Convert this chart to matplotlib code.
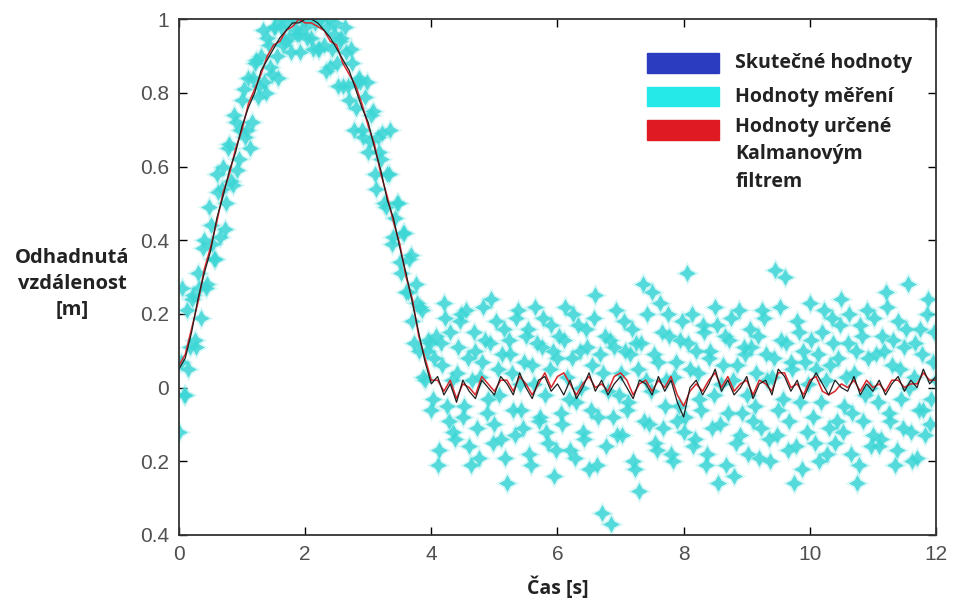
import numpy as np
import matplotlib
matplotlib.use("Agg")
import matplotlib.pyplot as plt
from matplotlib.patches import Rectangle

# skutecne hodnoty (krok 0.1 s)
skutecne = [0.05, 0.08, 0.15, 0.24, 0.31, 0.37, 0.46, 0.52, 0.59, 0.64, 0.71,
            0.76, 0.80, 0.86, 0.89, 0.92, 0.95, 0.97, 0.99, 0.99, 1.00,
            1.00, 0.99, 0.97, 0.95, 0.92, 0.89, 0.86, 0.81, 0.76, 0.72,
            0.65, 0.59, 0.51, 0.46, 0.38, 0.31, 0.23, 0.15, 0.07, 0.01,
            0.03, -0.02, 0.01, -0.04, 0.02, -0.01, -0.03, 0.02, 0.00, -0.02,
            0.03, 0.01, -0.02, 0.04, 0.00, -0.03, 0.02, 0.03, -0.01, 0.01,
            -0.02, 0.02, -0.03, 0.00, 0.04, -0.01, 0.02, -0.02, 0.01, 0.03,
            0.00, -0.03, 0.02, 0.01, -0.02, 0.03, -0.01, 0.02, -0.04, -0.08,
            0.00, 0.02, -0.02, 0.01, 0.05, -0.01, 0.02, -0.02, 0.00, 0.03,
            -0.03, 0.01, 0.02, -0.02, 0.05, 0.03, -0.01, 0.02, -0.03, 0.01,
            0.04, 0.01, -0.02, 0.02, 0.00, -0.01, 0.03, -0.02, 0.01, -0.01,
            0.02, -0.02, 0.01, 0.03, -0.01, 0.02, 0.00, 0.05, 0.01, 0.03]

# odhad Kalmanova filtru (krok 0.1 s)
kalman = [0.06, 0.09, 0.16, 0.23, 0.32, 0.38, 0.45, 0.53, 0.58, 0.65, 0.70,
          0.77, 0.81, 0.85, 0.90, 0.93, 0.94, 0.97, 0.98, 1.00, 0.99,
          0.99, 0.98, 0.97, 0.94, 0.93, 0.88, 0.85, 0.82, 0.77, 0.71,
          0.66, 0.58, 0.52, 0.45, 0.39, 0.30, 0.24, 0.14, 0.08, 0.02,
          0.02, -0.01, 0.02, -0.03, 0.01, 0.00, -0.02, 0.03, 0.01, -0.01,
          0.02, 0.02, -0.01, 0.03, 0.01, -0.02, 0.01, 0.04, 0.00, 0.03,
          0.04, 0.01, -0.02, 0.01, 0.03, 0.00, 0.01, -0.01, 0.03, 0.04,
          0.02, -0.02, 0.01, 0.02, -0.01, 0.02, 0.00, 0.03, -0.02, -0.05,
          -0.01, 0.01, -0.01, 0.02, 0.04, 0.00, 0.03, -0.01, 0.01, 0.02,
          -0.02, 0.02, 0.01, -0.01, 0.04, 0.04, 0.00, 0.01, -0.02, 0.02,
          0.03, -0.01, -0.02, -0.01, 0.01, 0.00, 0.02, -0.01, 0.02, 0.00,
          0.01, -0.01, 0.02, 0.02, 0.00, 0.01, 0.01, 0.04, 0.02, 0.02]

# hodnoty mereni v case 0, 0.05, 0.10, ... 12 s
mereni = [-0.12, 0.27, -0.02, 0.05, 0.24, 0.13, 0.31, 0.19, 0.40, 0.28,
          0.44, 0.35, 0.58, 0.41, 0.60, 0.50, 0.66, 0.55, 0.72, 0.62,
          0.78, 0.68, 0.84, 0.72, 0.88, 0.79, 0.90, 0.83, 0.95, 0.87,
          0.98, 0.90, 1.00, 0.93, 0.99, 0.95, 1.01, 0.97, 0.96, 1.00,
          0.98, 1.01, 0.95, 0.99, 0.92, 1.00, 0.93, 0.98, 0.87, 0.96,
          0.88, 0.94, 0.82, 0.91, 0.78, 0.88, 0.76, 0.84, 0.70, 0.79,
          0.64, 0.74, 0.58, 0.68, 0.62, 0.50, 0.58, 0.70, 0.41, 0.50,
          0.34, 0.42, 0.26, 0.35, 0.18, 0.28, 0.10, 0.21, 0.02, 0.13, -0.06,
          0.08, -0.21, 0.12, 0.23, -0.05, 0.15, -0.12, 0.04, 0.18, -0.08,
          0.21, -0.16, 0.02, 0.10, -0.19, 0.07, 0.13, -0.03, 0.24, -0.10,
          0.05, -0.14, 0.16, -0.26, 0.09, -0.06, 0.19, 0.01, -0.11, 0.14,
          -0.18, 0.06, 0.22, -0.09, 0.11, -0.02, -0.15, 0.17, -0.24, 0.08,
          -0.07, 0.13, 0.03, -0.17, 0.20, -0.04, 0.10, -0.12, 0.16, -0.22,
          0.06, 0.25, -0.08, -0.34, 0.14, -0.01, -0.37, 0.11, -0.13, 0.04,
          0.18, -0.06, 0.09, -0.20, 0.12, -0.28, 0.28, 0.02, -0.10, 0.26,
          -0.15, 0.07, 0.15, -0.05, 0.20, -0.18, 0.03, -0.09, 0.13, -0.12,
          0.31, 0.05, -0.16, 0.10, -0.03, 0.17, -0.21, 0.08, -0.11, 0.22,
          -0.26, 0.01, 0.14, -0.07, 0.19, -0.24, 0.06, -0.13, 0.11, -0.02,
          0.16, -0.09, 0.04, -0.19, 0.21, 0.09, -0.14, 0.03, 0.32, -0.06,
          0.13, 0.30, -0.17, 0.07, -0.26, 0.18, -0.04, 0.10, -0.12, 0.23,
          -0.08, 0.05, -0.20, 0.15, 0.02, -0.11, 0.19, -0.15, 0.08, 0.24,
          -0.05, 0.12, -0.18, 0.04, -0.26, 0.17, -0.09, 0.21, 0.00, -0.13,
          0.09, -0.16, 0.14, 0.26, -0.07, 0.06, -0.21, 0.18, -0.03, 0.11,
          0.28, -0.12, 0.03, -0.19, 0.16, -0.06, 0.20, -0.10, 0.07, 0.02]

# hodnoty mereni mezi nimi, v case 0.025, 0.075, ... 11.975 s
mereni_mezi = [0.07, -0.02, 0.21, 0.11, 0.25, 0.11, 0.27, 0.38, 0.27, 0.49,
               0.39, 0.35, 0.53, 0.54, 0.43, 0.65, 0.56, 0.74, 0.59, 0.70,
               0.81, 0.70, 0.65, 0.84, 0.89, 0.82, 0.97, 0.80, 0.93, 0.85,
               0.98, 0.84, 0.98, 0.94, 1.02, 0.91, 1.00, 0.96, 0.91, 1.02,
               0.95, 1.01, 0.92, 1.01, 0.92, 1.01, 0.86, 1.00, 0.92, 0.99,
               0.82, 0.95, 0.98, 0.82, 0.92, 0.70, 0.83, 0.83, 0.68, 0.83,
               0.67, 0.75, 0.54, 0.64, 0.69, 0.49, 0.58, 0.39, 0.46, 0.50,
               0.31, 0.42, 0.26, 0.36, 0.12, 0.23, 0.22, 0.03, 0.10, 0.12,
               -0.03, 0.14, -0.17, 0.06, 0.19, -0.09, 0.02, -0.14, 0.11, 0.20,
               -0.05, 0.08, -0.21, 0.15, -0.11, 0.03, 0.22, -0.07, 0.12, -0.15,
               0.18, -0.02, 0.09, -0.19, 0.13, 0.04, -0.13, 0.21, -0.06, 0.07,
               0.16, -0.21, 0.01, 0.12, -0.08, 0.19, -0.12, 0.05, 0.10, -0.17,
               0.14, -0.10, 0.22, -0.03, 0.08, -0.19, 0.17, 0.00, -0.14, 0.11,
               -0.06, 0.19, -0.21, 0.09, 0.04, -0.16, 0.13, -0.08, 0.21, -0.02,
               -0.13, 0.10, -0.04, 0.16, -0.22, 0.05, 0.12, -0.09, 0.20, -0.01,
               0.09, -0.17, 0.23, -0.11, 0.02, 0.14, -0.20, 0.07, -0.05, 0.18,
               -0.08, 0.12, 0.20, -0.14, 0.04, -0.06, 0.15, -0.18, 0.10, -0.02,
               0.17, -0.10, 0.06, -0.21, 0.13, 0.02, -0.15, 0.21, -0.07, 0.09,
               -0.18, 0.11, -0.05, 0.14, -0.11, 0.19, 0.02, -0.20, 0.08, -0.13,
               0.22, -0.03, 0.12, -0.09, 0.05, -0.16, 0.15, -0.22, 0.07, 0.01,
               0.13, -0.15, 0.09, -0.04, 0.21, -0.18, 0.06, 0.12, -0.09, 0.17,
               -0.12, 0.03, 0.20, -0.07, 0.10, -0.21, 0.14, -0.02, 0.08, -0.16,
               0.19, -0.04, -0.14, 0.10, 0.22, -0.09, 0.13, -0.17, 0.05, -0.11,
               0.16, 0.00, -0.20, 0.12, -0.06, 0.09, -0.13, 0.24, -0.03, 0.15]

yticks = [-0.4, -0.2, 0, 0.2, 0.4, 0.6, 0.8, 1]
ytick_labels = ["0.4", "0.2", "0", "0.2", "0.4", "0.6", "0.8", "1"]
xticks = [0, 2, 4, 6, 8, 10, 12]

legend_labels = ["Skutečné hodnoty", "Hodnoty měření", "Hodnoty určené\nKalmanovým\nfiltrem"]
legend_colors = ["#2b3cc0", "#25e8e8", "#e01a22"]

t_line = np.linspace(0, 12, len(skutecne))
t_mer = np.linspace(0, 12, len(mereni))
t_mezi = np.linspace(0.025, 11.975, len(mereni_mezi))

fig = plt.figure(figsize=(9.54, 6.01), dpi=100)
ax = fig.add_axes([0.1876, 0.11, 0.7935, 0.858])

# mereni: rozmazany okraj + jadro hvezdicky
for tt, yy in [(t_mer, mereni), (t_mezi, mereni_mezi)]:
    ax.plot(tt, yy, linestyle="none", marker=(4, 1, 0), markersize=17,
            color="#8ee8e8", alpha=0.35, markeredgewidth=0)
for tt, yy in [(t_mer, mereni), (t_mezi, mereni_mezi)]:
    ax.plot(tt, yy, linestyle="none", marker=(4, 1, 0), markersize=12,
            color="#3dd6d6", alpha=0.85, markeredgewidth=0)
ax.plot(t_line, kalman, color="#d8262b", lw=1.1)
ax.plot(t_line, skutecne, color="#202020", lw=0.9)

ax.set_xlim(0, 12)
ax.set_ylim(-0.4, 1)
ax.set_xticks(xticks)
ax.set_yticks(yticks)
ax.set_yticklabels(ytick_labels)
ax.tick_params(direction="in", top=True, right=True, length=6, width=1,
               labelsize=15, labelcolor="#505050", pad=7)
for lab in ax.get_xticklabels() + ax.get_yticklabels():
    lab.set_family("Liberation Sans")
for s in ax.spines.values():
    s.set_linewidth(1.3)
    s.set_color("#333333")

# legenda
for i, (lab, col) in enumerate(zip(legend_labels, legend_colors)):
    y = 0.915 - i * 0.065
    ax.add_patch(Rectangle((0.618, y - 0.019), 0.096, 0.038, transform=ax.transAxes,
                           color=col, clip_on=False))
    if i < 2:
        ax.text(0.735, y, lab, transform=ax.transAxes, va="center",
                fontsize=14, fontweight="bold", family="Open Sans", color="#222222")
    else:
        ax.text(0.735, y + 0.026, lab, transform=ax.transAxes, va="top",
                fontsize=14, fontweight="bold", family="Open Sans", color="#222222",
                linespacing=1.5)

ax.set_xlabel("Čas [s]", fontsize=14, fontweight="bold", family="Open Sans",
              color="#222222", labelpad=9)
fig.text(0.076, 0.527, "Odhadnutá\nvzdálenost\n[m]", ha="center", va="center",
         fontsize=14.5, fontweight="bold", family="Open Sans", color="#222222",
         linespacing=1.4)

fig.savefig("out.png", dpi=100)
